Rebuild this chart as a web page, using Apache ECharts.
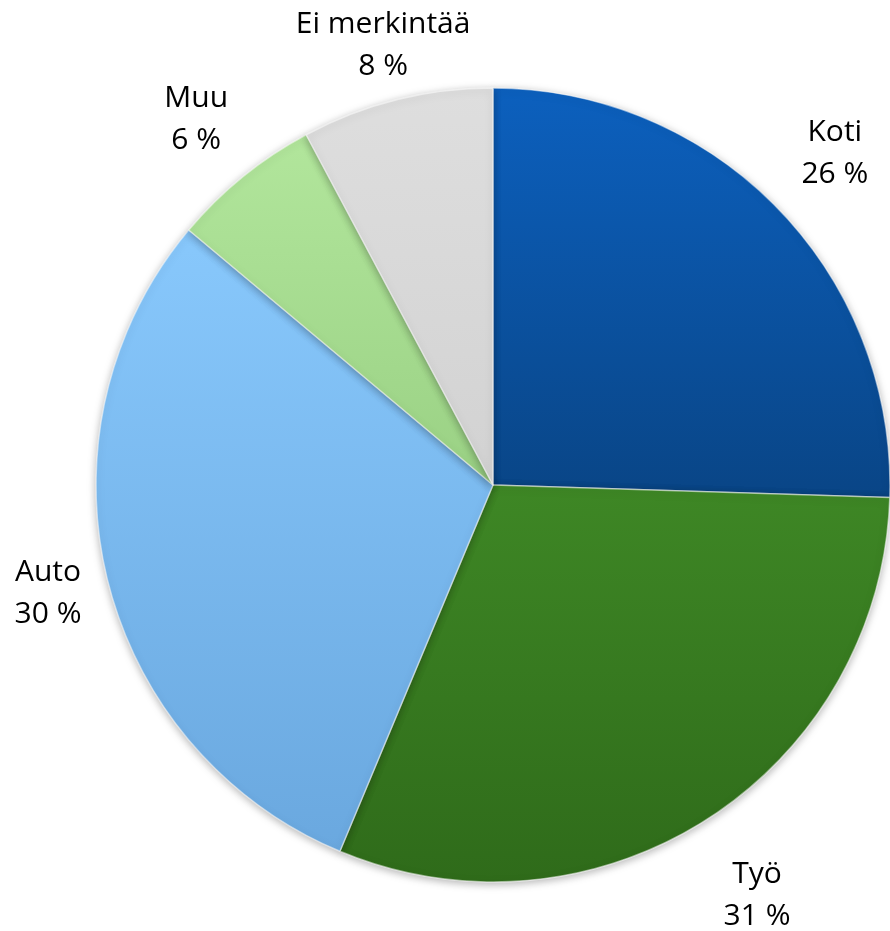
<!DOCTYPE html>
<html>
<head>
<meta charset="utf-8">
<script src="https://cdn.jsdelivr.net/npm/echarts@6/dist/echarts.min.js"></script>
<style>
  html, body { margin: 0; padding: 0; background: #fff; }
  #main { width: 890px; height: 931px; }
</style>
</head>
<body>
<div id="main"></div>
<script>
const categories = ["Koti", "Työ", "Auto", "Muu", "Ei merkintää"];
const values = [25.5, 30.8, 29.8, 6.1, 7.8];
const shownPercent = [26, 31, 30, 6, 8];

// look: top/bottom gradient colours and how far each label sits out from the rim
const colorsTop = ["#0c60be", "#3e8725", "#88c8fc", "#b2e69c", "#dedede"];
const colorsBottom = ["#094586", "#2f6b1a", "#6aa8df", "#9ad184", "#d2d2d2"];
const labelGap = [79, 91, 61, 74, 56];

const grad = (i) => new echarts.graphic.LinearGradient(0, 0, 0, 1, [
  { offset: 0, color: colorsTop[i] },
  { offset: 1, color: colorsBottom[i] }
]);

const chart = echarts.init(document.getElementById("main"));
chart.setOption({
  animation: false,
  series: [{
    type: "pie",
    center: [493, 485],
    radius: 397,
    startAngle: 90,
    clockwise: true,
    avoidLabelOverlap: false,
    data: categories.map((name, i) => ({
      name: name,
      value: values[i],
      itemStyle: { color: grad(i) },
      labelLine: { length: labelGap[i] }
    })),
    itemStyle: {
      borderColor: "rgba(255,255,255,0.5)",
      borderWidth: 1.5,
      shadowBlur: 8,
      shadowOffsetY: 2,
      shadowColor: "rgba(0,0,0,0.3)"
    },
    label: {
      show: true,
      position: "outside",
      distanceToLabelLine: 0,
      fontFamily: "Open Sans",
      fontSize: 30,
      lineHeight: 42,
      color: "#000",
      formatter: (p) => p.name + "\n" + shownPercent[p.dataIndex] + " %"
    },
    labelLine: { show: false, length2: 0 },
    labelLayout: { align: "center", verticalAlign: "middle" },
    emphasis: { disabled: true }
  }]
});
</script>
</body>
</html>
